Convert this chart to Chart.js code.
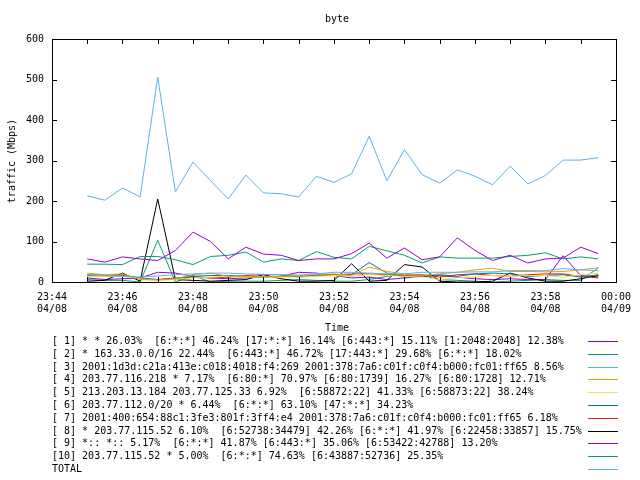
<!DOCTYPE html>
<html>
<head>
<meta charset="utf-8">
<script src="https://cdn.jsdelivr.net/npm/chart.js@4"></script>
<style>
  body { margin: 0; background: #fff; }
  #wrap { position: relative; width: 640px; height: 480px; font-family: "DejaVu Sans Mono", monospace; font-size: 10px; color: #000; }
  #myChart { position: absolute; left: 0; top: 0; }
  .txt { position: absolute; white-space: pre; line-height: 12px; }
  .key { position: absolute; left: 588px; width: 30px; height: 0; border-top: 1px solid; }
</style>
</head>
<body>
<div id="wrap">
  <canvas id="myChart" width="640" height="480"></canvas>
  <div class="txt" style="left:52px;width:570px;top:13px;text-align:center">byte</div>
  <div class="txt" style="left:52px;width:570px;top:322px;text-align:center">Time</div>
  <div class="txt" style="left:-88px;width:200px;top:155px;text-align:center;transform:rotate(-90deg)">traffic (Mbps)</div>
  <div id="legend"></div>
</div>
<script>
// minutes after 23:44, one sample every 30 s from 23:45 to 23:59:30
let times = [1, 1.5, 2, 2.5, 3, 3.5, 4, 4.5, 5, 5.5, 6, 6.5, 7, 7.5, 8, 8.5, 9, 9.5, 10, 10.5, 11, 11.5, 12, 12.5, 13, 13.5, 14, 14.5, 15, 15.5];

let s1 = [57, 49, 62, 57, 53, 78, 123, 100, 57, 86, 69, 66, 53, 57, 57, 70, 96, 59, 84, 55, 62, 109, 78, 53, 66, 47, 57, 59, 86, 70];
let s2 = [44, 44, 43, 63, 63, 55, 43, 63, 66, 74, 49, 57, 53, 75, 61, 57, 88, 77, 66, 47, 62, 59, 59, 59, 63, 66, 72, 57, 62, 57];
let s3 = [18, 16, 14, 12, 15, 18, 20, 22, 22, 20, 19, 18, 17, 20, 24, 24, 22, 20, 20, 24, 24, 24, 25, 25, 28, 28, 28, 33, 30, 28];
let s4 = [22, 18, 20, 6, 5, 8, 18, 22, 14, 14, 12, 14, 16, 18, 20, 16, 37, 26, 20, 16, 20, 24, 30, 34, 26, 26, 25, 26, 30, 35];
let s5 = [14, 14, 14, 8, 4, 6, 10, 12, 14, 12, 12, 12, 12, 14, 16, 14, 18, 16, 14, 12, 6, 10, 14, 16, 14, 16, 16, 12, 18, 22];
let s6 = [16, 14, 16, 10, 6, 8, 14, 16, 16, 14, 12, 14, 14, 16, 16, 18, 48, 22, 12, 16, 18, 14, 20, 22, 20, 14, 16, 18, 12, 18];
let s7 = [18, 17, 18, 8, 6, 10, 12, 10, 12, 16, 18, 18, 12, 16, 18, 20, 20, 18, 16, 18, 12, 18, 20, 16, 14, 18, 20, 20, 14, 10];
let s8 = [2, 4, 22, 2, 205, 6, 4, 2, 4, 6, 18, 8, 2, 2, 4, 45, 2, 4, 43, 37, 2, 0, 0, 2, 22, 10, 2, 2, 8, 16];
let s9 = [10, 6, 8, 10, 24, 22, 14, 10, 8, 10, 12, 14, 24, 22, 16, 10, 12, 6, 10, 14, 16, 12, 8, 6, 8, 6, 6, 65, 16, 12];
let s10 = [6, 4, 4, 0, 103, 0, 16, 0, 2, 2, 2, 4, 6, 4, 2, 2, 6, 14, 20, 16, 6, 4, 2, 0, 2, 4, 6, 4, 4, 35];
let total = [213, 202, 232, 210, 506, 222, 296, 250, 205, 264, 220, 218, 210, 261, 246, 267, 360, 250, 327, 265, 244, 277, 261, 240, 286, 242, 263, 301, 301, 307];

let tickTimes = ["23:44", "23:45", "23:46", "23:47", "23:48", "23:49", "23:50", "23:51", "23:52", "23:53", "23:54", "23:55", "23:56", "23:57", "23:58", "23:59", "00:00"];
let tickDates = ["04/08", "04/08", "04/08", "04/08", "04/08", "04/08", "04/08", "04/08", "04/08", "04/08", "04/08", "04/08", "04/08", "04/08", "04/08", "04/08", "04/09"];

let labels = [
  "[ 1] * * 26.03%  [6:*:*] 46.24% [17:*:*] 16.14% [6:443:*] 15.11% [1:2048:2048] 12.38%",
  "[ 2] * 163.33.0.0/16 22.44%  [6:443:*] 46.72% [17:443:*] 29.68% [6:*:*] 18.02%",
  "[ 3] 2001:1d3d:c21a:413e:c018:4018:f4:269 2001:378:7a6:c01f:c0f4:b000:fc01:ff65 8.56%",
  "[ 4] 203.77.116.218 * 7.17%  [6:80:*] 70.97% [6:80:1739] 16.27% [6:80:1728] 12.71%",
  "[ 5] 213.203.13.184 203.77.125.33 6.92%  [6:58872:22] 41.33% [6:58873:22] 38.24%",
  "[ 6] 203.77.112.0/20 * 6.44%  [6:*:*] 63.10% [47:*:*] 34.23%",
  "[ 7] 2001:400:654:88c1:3fe3:801f:3ff4:e4 2001:378:7a6:c01f:c0f4:b000:fc01:ff65 6.18%",
  "[ 8] * 203.77.115.52 6.10%  [6:52738:34479] 42.26% [6:*:*] 41.97% [6:22458:33857] 15.75%",
  "[ 9] *:: *:: 5.17%  [6:*:*] 41.87% [6:443:*] 35.06% [6:53422:42788] 13.20%",
  "[10] 203.77.115.52 * 5.00%  [6:*:*] 74.63% [6:43887:52736] 25.35%",
  "TOTAL"
];
let colors = ["#9400d3", "#009e73", "#56b4e9", "#e69f00", "#f0e442", "#0072b2", "#e51e10", "#000000", "#9400d3", "#009e73", "#56b4e9"];
let series = [s1, s2, s3, s4, s5, s6, s7, s8, s9, s10, total];

// legend in html, gnuplot style
let $legend = document.getElementById("legend");
labels.forEach((text, i) => {
  let mid = Math.round(341 + 12.8 * i);
  let row = document.createElement("div");
  row.className = "txt";
  row.style.left = "52px";
  row.style.top = (mid - 6) + "px";
  row.textContent = text;
  $legend.appendChild(row);
  let key = document.createElement("div");
  key.className = "key";
  key.style.top = mid + "px";
  key.style.borderColor = colors[i];
  $legend.appendChild(key);
});

// border plus inward ticks on all four sides
let framePlugin = {
  id: "frame",
  afterDatasetsDraw(chart) {
    let c = chart.ctx;
    let a = chart.chartArea;
    let x = chart.scales.x;
    let y = chart.scales.y;
    c.save();
    c.strokeStyle = "#000";
    c.lineWidth = 1;
    c.beginPath();
    x.ticks.forEach(t => {
      let px = Math.round(x.getPixelForValue(t.value)) + 0.5;
      c.moveTo(px, a.bottom); c.lineTo(px, a.bottom - 5);
      c.moveTo(px, a.top); c.lineTo(px, a.top + 5);
    });
    y.ticks.forEach(t => {
      let py = Math.round(y.getPixelForValue(t.value)) + 0.5;
      c.moveTo(a.left, py); c.lineTo(a.left + 5, py);
      c.moveTo(a.right, py); c.lineTo(a.right - 5, py);
    });
    c.stroke();
    c.strokeRect(Math.round(a.left) + 0.5, Math.round(a.top) + 0.5, Math.round(a.right - a.left), Math.round(a.bottom - a.top));
    c.restore();
  }
};

let font = { family: "DejaVu Sans Mono", size: 10, lineHeight: 1.2 };

let chart = new Chart(document.getElementById("myChart").getContext("2d"), {
  type: "line",
  data: {
    datasets: series.map((vals, i) => ({
      label: labels[i],
      data: vals.map((v, j) => ({ x: times[j], y: v })),
      borderColor: colors[i],
      borderWidth: 1,
      pointRadius: 0,
      fill: false,
      tension: 0
    }))
  },
  options: {
    responsive: false,
    animation: false,
    layout: { padding: { top: 39, right: 18, bottom: 158, left: 0 } },
    plugins: { legend: { display: false }, tooltip: { enabled: false }, title: { display: false } },
    scales: {
      x: {
        type: "linear",
        min: 0,
        max: 16,
        afterFit: s => { s.height = 40; },
        grid: { display: false, drawTicks: false },
        border: { display: false },
        ticks: {
          stepSize: 1,
          autoSkip: false,
          maxRotation: 0,
          padding: 9,
          color: "#000",
          font: font,
          callback: v => (v % 2 === 0 ? [tickTimes[v], tickDates[v]] : "")
        }
      },
      y: {
        min: 0,
        max: 600,
        afterFit: s => { s.width = 52; },
        grid: { display: false, drawTicks: false },
        border: { display: false },
        ticks: { stepSize: 100, padding: 8, color: "#000", font: font }
      }
    }
  },
  plugins: [framePlugin]
});
</script>
</body>
</html>
